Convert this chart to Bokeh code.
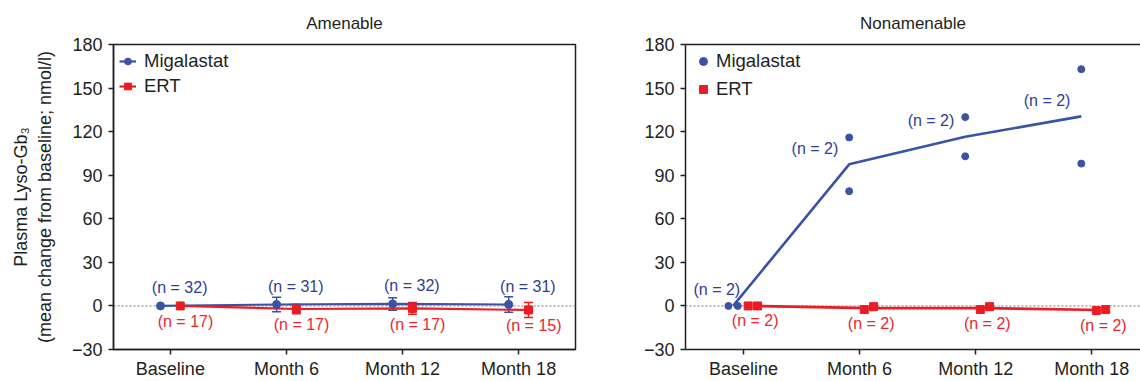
from bokeh.plotting import figure
from bokeh.layouts import row
from bokeh.models import (FixedTicker, Span, Whisker, TeeHead, ColumnDataSource,
                          Legend, LegendItem, LinearAxis, Range1d)
from bokeh.embed import file_html
from bokeh.resources import INLINE
from bokeh.core.properties import value

# ---------------- data ----------------
categories = ["Baseline", "Month 6", "Month 12", "Month 18"]
y_ticks = [-30, 0, 30, 60, 90, 120, 150, 180]

# Amenable: mean change and error (SE)
am_mig_mean = [0.0, 1.0, 1.4, 1.0]
am_mig_err = [0.0, 5.0, 4.3, 5.4]
am_mig_n = [32, 31, 32, 31]
am_ert_mean = [0.0, -2.1, -1.7, -2.8]
am_ert_err = [0.0, 3.2, 4.0, 5.1]
am_ert_n = [17, 17, 17, 15]

# Nonamenable: two individual patients per arm
non_mig_a = [0.0, 116.0, 130.0, 163.0]
non_mig_b = [0.0, 79.0, 103.0, 98.0]
non_mig_n = [2, 2, 2, 2]
non_ert_a = [0.0, -2.5, -2.5, -3.2]
non_ert_b = [0.0, -0.5, -0.5, -2.5]
non_ert_n = [2, 2, 2, 2]

# ---------------- style ----------------
FONT = "Liberation Sans"
TXT = "#231f20"
BLUE = "#3a53a4"
BLUE_T = "#2e3d96"
RED = "#ec1c24"
RED_T = "#e8262c"
H = 381


def base_fig(width, x_start, x_end, mb_left, mb_right, title):
    p = figure(width=width, height=H, x_range=Range1d(x_start, x_end),
               y_range=Range1d(-30, 180), output_backend="svg",
               toolbar_location=None, min_border_left=mb_left,
               min_border_right=mb_right, min_border_top=41, min_border_bottom=32)
    p.title.text = title
    p.title.align = "center"
    p.title.text_font = FONT
    p.title.text_font_size = "17px"
    p.title.text_font_style = "normal"
    p.title.text_color = TXT
    p.title.standoff = 23
    p.xgrid.visible = False
    p.ygrid.visible = False
    p.xaxis.ticker = FixedTicker(ticks=list(range(len(categories))))
    p.xaxis.major_label_overrides = {i: c for i, c in enumerate(categories)}
    p.yaxis.ticker = FixedTicker(ticks=y_ticks)
    p.yaxis.major_label_overrides = {t: ("\u2212" + str(-t) if t < 0 else str(t)) for t in y_ticks}
    for ax in (p.xaxis, p.yaxis):
        ax.axis_line_color = TXT
        ax.axis_line_width = 1.5
        ax.major_tick_line_color = TXT
        ax.major_tick_line_width = 1.5
        ax.major_tick_in = 0
        ax.major_tick_out = 5
        ax.minor_tick_line_color = None
        ax.major_label_text_font = FONT
        ax.major_label_text_font_size = "18px"
        ax.major_label_text_color = TXT
    p.xaxis.major_label_standoff = 4
    p.yaxis.major_label_standoff = 6
    p.background_fill_color = "white"
    p.border_fill_color = "white"
    p.add_layout(Span(location=0, dimension="width", line_color="#7a7a7a",
                      line_dash="2 2", line_width=1, level="underlay"))
    return p


def style_legend(p, items, margin, padding, spacing, glyph_w, standoff):
    lg = Legend(items=items, location="top_left", border_line_alpha=0,
                background_fill_alpha=0, label_text_font=FONT,
                label_text_font_size="18.5px", label_text_color=TXT,
                margin=margin, padding=padding, spacing=spacing,
                glyph_width=glyph_w, glyph_height=20, label_height=20,
                label_standoff=standoff)
    p.add_layout(lg)


def n_text(p, xs, ys, ns, color, dx, dy):
    src = ColumnDataSource(dict(x=xs, y=ys, t=["(n = %d)" % n for n in ns]))
    p.text(x="x", y="y", text="t", source=src, text_font=value(FONT),
           text_font_size="16px", text_color=color, text_align="center",
           text_baseline="middle", x_offset=dx, y_offset=dy)


# ---------------- Amenable ----------------
p1 = base_fig(600, -0.49, 3.49, 113, 25, "Amenable")
p1.outline_line_color = TXT
p1.outline_line_width = 1.5
p1.outline_line_alpha = 1
p1.yaxis.axis_label = "Plasma Lyso-Gb\u2083\n(mean change from baseline; nmol/l)"
p1.yaxis.axis_label_text_font = FONT
p1.yaxis.axis_label_text_font_size = "18px"
p1.yaxis.axis_label_text_font_style = "normal"
p1.yaxis.axis_label_text_color = TXT
p1.yaxis.axis_label_standoff = 14
p1.yaxis.axis_label_text_line_height = 1.2

idx = list(range(len(categories)))
xm = [i - 0.085 for i in idx]
xe = [i + 0.085 for i in idx]

lm = p1.line(xm, am_mig_mean, line_color=BLUE, line_width=2.2)
le = p1.line(xe, am_ert_mean, line_color=RED, line_width=2.2)

for xs, mean, err, col in ((xm, am_mig_mean, am_mig_err, BLUE), (xe, am_ert_mean, am_ert_err, RED)):
    sel = [i for i in idx if err[i] > 0]
    ws = ColumnDataSource(dict(x=[xs[i] for i in sel],
                               up=[mean[i] + err[i] for i in sel],
                               lo=[mean[i] - err[i] for i in sel]))
    p1.add_layout(Whisker(base="x", upper="up", lower="lo", source=ws,
                          line_color=col, line_width=1.5,
                          upper_head=TeeHead(size=9, line_color=col, line_width=1.5),
                          lower_head=TeeHead(size=9, line_color=col, line_width=1.5)))

sm = p1.scatter(xm, am_mig_mean, marker="circle", size=8, fill_color=BLUE, line_color=BLUE)
se = p1.scatter(xe, am_ert_mean, marker="square", size=8, fill_color=RED, line_color=RED)

n_text(p1, [i + 0.08 for i in idx], am_mig_mean, am_mig_n, BLUE_T, 0, -18)
n_text(p1, [i + 0.13 for i in idx], am_ert_mean, am_ert_n, RED_T, 0, 16)

style_legend(p1, [LegendItem(label="Migalastat", renderers=[lm, sm]),
                  LegendItem(label="ERT", renderers=[le, se])],
             margin=3, padding=3, spacing=3, glyph_w=17, standoff=8)

# ---------------- Nonamenable ----------------
p2 = base_fig(540, -0.5, 3.42, 85, 0, "Nonamenable")
p2.outline_line_color = None
top = LinearAxis(ticker=FixedTicker(ticks=[]), axis_line_color=TXT, axis_line_width=1.5,
                 major_tick_line_color=None, minor_tick_line_color=None,
                 major_label_text_font_size="0px")
p2.add_layout(top, "above")

mig_mean = [(a + b) / 2 for a, b in zip(non_mig_a, non_mig_b)]
ert_mean = [(a + b) / 2 for a, b in zip(non_ert_a, non_ert_b)]
xl_m = [i - 0.09 for i in idx]
xl_e = [i + 0.08 for i in idx]
xa_m = [i - (0.13 if non_mig_a[i] == non_mig_b[i] else 0.09) for i in idx]
xb_m = [i - (0.05 if non_mig_a[i] == non_mig_b[i] else 0.09) for i in idx]
xa_e = [i + 0.04 for i in idx]
xb_e = [i + 0.12 for i in idx]

p2.line(xl_m, mig_mean, line_color=BLUE, line_width=2.6)
p2.line(xl_e, ert_mean, line_color=RED, line_width=2.6)
s2m = p2.scatter(xa_m + xb_m, non_mig_a + non_mig_b, marker="circle", size=7,
                 fill_color=BLUE, line_color=BLUE)
s2e = p2.scatter(xa_e + xb_e, non_ert_a + non_ert_b, marker="square", size=8,
                 fill_color=RED, line_color=RED)

# n labels for the blue arm sit left of the line, higher up
lab_x = [i - (0.23 if i == 0 else 0.385) for i in idx]
n_text(p2, lab_x, mig_mean, non_mig_n, BLUE_T, 0, -16)
n_text(p2, [i + 0.1 for i in idx], ert_mean, non_ert_n, RED_T, 0, 15)

style_legend(p2, [LegendItem(label="Migalastat", renderers=[s2m]),
                  LegendItem(label="ERT", renderers=[s2e])],
             margin=3, padding=3, spacing=6, glyph_w=24, standoff=1)

layout = row(p1, p2)
open("out.html", "w").write(file_html(layout, INLINE))
